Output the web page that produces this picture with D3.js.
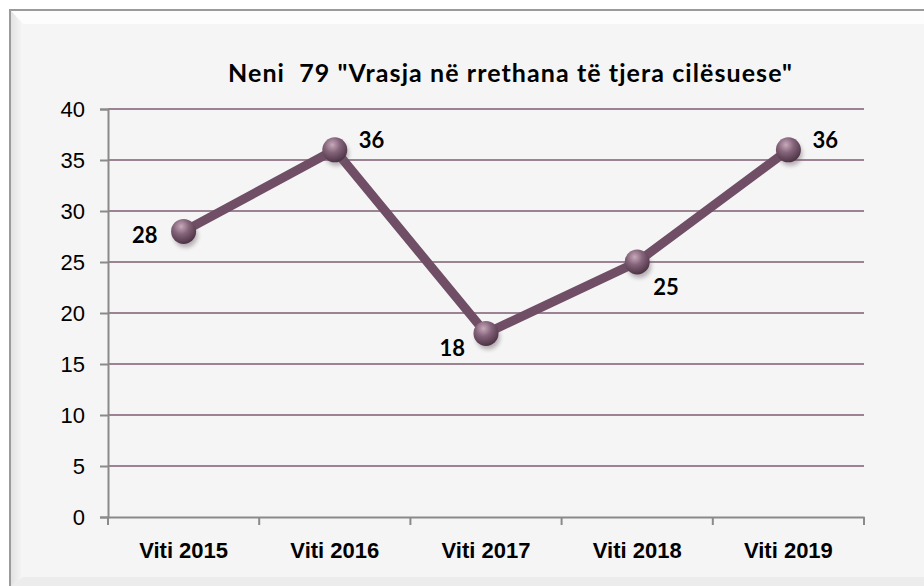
<!DOCTYPE html>
<html>
<head>
<meta charset="utf-8">
<script src="https://cdn.jsdelivr.net/npm/d3@7/dist/d3.min.js"></script>
<style>
  html, body { margin: 0; padding: 0; background: #fff; }
  svg { display: block; font-family: Lato, "Open Sans", sans-serif; }
</style>
</head>
<body>
<div id="chart"></div>
<script>
var years = ["Viti 2015", "Viti 2016", "Viti 2017", "Viti 2018", "Viti 2019"];
var counts = [28, 36, 18, 25, 36];
var yTicks = [0, 5, 10, 15, 20, 25, 30, 35, 40];
var labelSide = ["left", "right", "below-left", "below-right", "right"];
var title = "Neni  79 \"Vrasja në rrethana të tjera cilësuese\"";

var w = 924, h = 586;
var margin = { top: 109, right: 60, bottom: 69, left: 108 };
var lineColor = "#6f4e66", gridColor = "#7d5c72", axisColor = "#8a8a8a";

var svg = d3.select("#chart").append("svg")
  .attr("width", w)
  .attr("height", h);

var defs = svg.append("defs");

var ball = defs.append("radialGradient")
  .attr("id", "ball")
  .attr("cx", "40%").attr("cy", "30%").attr("r", "70%");
ball.append("stop").attr("offset", "0%").attr("stop-color", "#c8aabb");
ball.append("stop").attr("offset", "45%").attr("stop-color", "#84647a");
ball.append("stop").attr("offset", "100%").attr("stop-color", "#4e3346");

var shade = defs.append("filter").attr("id", "shade")
  .attr("x", "-50%").attr("y", "-50%").attr("width", "200%").attr("height", "200%");
shade.append("feGaussianBlur").attr("stdDeviation", 2);

var leftBevel = defs.append("linearGradient").attr("id", "leftBevel");
leftBevel.append("stop").attr("offset", "0%").attr("stop-color", "#e2e2e2");
leftBevel.append("stop").attr("offset", "100%").attr("stop-color", "#f7f7f7");

// frame with a bevelled edge
svg.append("rect")
  .attr("x", 10).attr("y", 10)
  .attr("width", w + 20).attr("height", h + 20)
  .attr("fill", "#f5f5f5")
  .attr("stroke", "#9b9b9b")
  .attr("stroke-width", 2);

svg.append("path")
  .attr("d", "M11,11 L" + w + ",11 L" + w + ",24 L23,24 Z")
  .attr("fill", "#fdfdfd");

svg.append("path")
  .attr("d", "M11,11 L23,24 L23," + (h - 9) + " L11," + h + " Z")
  .attr("fill", "url(#leftBevel)");

svg.append("path")
  .attr("d", "M23," + (h - 9) + " L" + w + "," + (h - 9) + " L" + w + "," + h + " L11," + h + " Z")
  .attr("fill", "#ececec");

var x = d3.scaleBand()
  .domain(years)
  .range([margin.left, w - margin.right]);

var y = d3.scaleLinear()
  .domain([0, 40])
  .range([h - margin.bottom, margin.top]);

// gridlines
svg.append("g")
  .selectAll("line")
  .data(yTicks.filter(d => d > 0))
  .enter().append("line")
  .attr("x1", margin.left).attr("x2", w - margin.right)
  .attr("y1", d => y(d)).attr("y2", d => y(d))
  .attr("stroke", gridColor)
  .attr("stroke-width", 1.5);

// y axis
var yAxis = svg.append("g")
  .attr("transform", `translate(${margin.left},0)`)
  .call(d3.axisLeft(y).tickValues(yTicks).tickSize(8).tickPadding(15));
yAxis.selectAll("text")
  .style("font-size", "22px")
  .attr("fill", "#000");

// x axis
var xAxis = svg.append("g")
  .attr("transform", `translate(0,${h - margin.bottom})`)
  .call(d3.axisBottom(x).tickSize(0).tickPadding(25));
xAxis.selectAll("text")
  .style("font-size", "22px")
  .style("font-weight", "bold")
  .attr("fill", "#000");

// category boundary ticks
xAxis.selectAll("line.bound")
  .data(years.map(d => x(d)).concat([x.range()[1]]))
  .enter().append("line")
  .attr("class", "bound")
  .attr("x1", d => d).attr("x2", d => d)
  .attr("y1", 0).attr("y2", 8);

svg.selectAll(".domain, .tick line, line.bound")
  .attr("stroke", axisColor)
  .attr("stroke-width", 2);

var cx = d => x(d) + x.bandwidth() / 2;

var line = d3.line()
  .x((d, i) => cx(years[i]))
  .y(d => y(d));

svg.append("path")
  .datum(counts)
  .attr("fill", "none")
  .attr("stroke", lineColor)
  .attr("stroke-width", 9)
  .attr("stroke-linejoin", "miter")
  .attr("d", line);

var pts = svg.append("g")
  .selectAll("g")
  .data(counts)
  .enter().append("g")
  .attr("transform", (d, i) => `translate(${cx(years[i])},${y(d)})`);

pts.append("circle")
  .attr("r", 12)
  .attr("cx", 2).attr("cy", 4)
  .attr("fill", "#6a5a64")
  .attr("opacity", 0.45)
  .attr("filter", "url(#shade)");

pts.append("circle")
  .attr("r", 12.5)
  .attr("fill", "url(#ball)");

// value labels
var offsets = {
  "left": [-26, 12, "end"],
  "right": [24, -2, "start"],
  "below-left": [-21, 23, "end"],
  "below-right": [16, 33, "start"]
};

pts.append("text")
  .attr("x", (d, i) => offsets[labelSide[i]][0])
  .attr("y", (d, i) => offsets[labelSide[i]][1])
  .attr("text-anchor", (d, i) => offsets[labelSide[i]][2])
  .style("font-size", "22px")
  .style("font-weight", "bold")
  .text(d => d);

svg.append("text")
  .attr("x", 228)
  .attr("y", 82)
  .attr("textLength", 564)
  .attr("lengthAdjust", "spacing")
  .style("white-space", "pre")
  .style("font-size", "25px")
  .style("font-weight", "bold")
  .text(title);
</script>
</body>
</html>
